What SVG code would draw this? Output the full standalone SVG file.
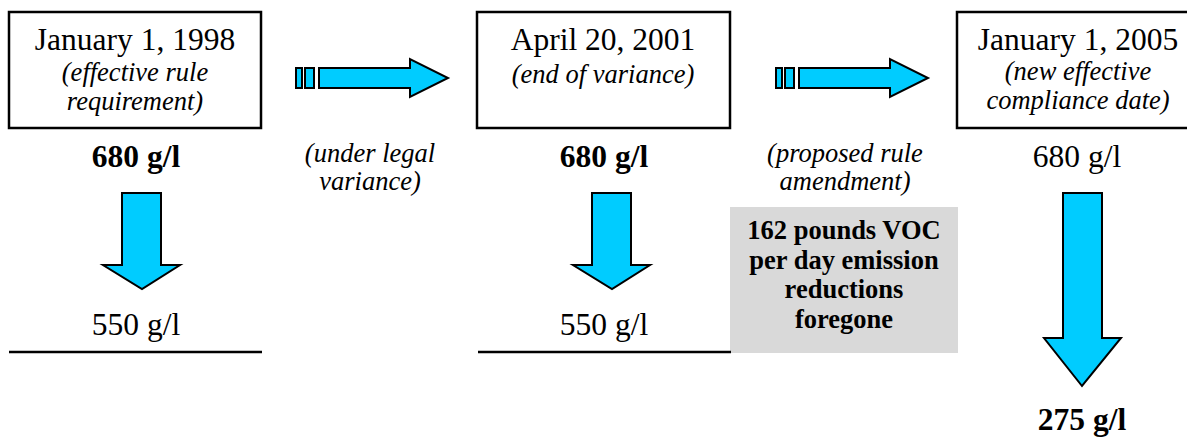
<svg xmlns="http://www.w3.org/2000/svg" width="1187" height="438" viewBox="0 0 1187 438">
<style>
.box{fill:#fff;stroke:#000;stroke-width:2.5}
.t{font-family:"Liberation Serif","Times New Roman",serif;fill:#000;text-anchor:middle}
.big{font-size:31.5px}
.it{font-size:26.5px;font-style:italic}
.b{font-weight:bold}
.gb{font-size:26.5px;font-weight:bold}
.arr{fill:#00ccff;stroke:#000;stroke-width:2;stroke-linejoin:miter}
.ln{stroke:#000;stroke-width:2.5}
</style>
<rect width="1187" height="438" fill="#fff"/>
<g id="node-1998">
<rect class="box" x="9" y="12" width="252" height="116"/>
<text class="t big" x="135" y="50">January 1, 1998</text>
<text class="t it" x="135" y="81">(effective rule</text>
<text class="t it" x="135" y="110">requirement)</text>
</g>
<g id="node-2001">
<rect class="box" x="477" y="12" width="253" height="116"/>
<text class="t big" x="603" y="50">April 20, 2001</text>
<text class="t it" x="603" y="83">(end of variance)</text>
</g>
<g id="node-2005">
<rect class="box" x="957" y="12" width="245" height="116"/>
<text class="t big" x="1078" y="50">January 1, 2005</text>
<text class="t it" x="1078" y="80">(new effective</text>
<text class="t it" x="1078" y="109">compliance date)</text>
</g>
<g id="labels">
<text class="t big b" x="136" y="167">680 g/l</text>
<text class="t big" x="136" y="335">550 g/l</text>
<text class="t big b" x="604" y="167">680 g/l</text>
<text class="t big" x="604" y="335">550 g/l</text>
<text class="t big" x="1077" y="167">680 g/l</text>
<text class="t big b" x="1082" y="430">275 g/l</text>
<text class="t it" x="370" y="162">(under legal</text>
<text class="t it" x="370" y="190">variance)</text>
<text class="t it" x="845" y="162">(proposed rule</text>
<text class="t it" x="845" y="190">amendment)</text>
</g>
<g id="node-foregone">
<rect x="730" y="207" width="228" height="146" fill="#d9d9d9"/>
<text class="t gb" x="844" y="239">162 pounds VOC</text>
<text class="t gb" x="844" y="269">per day emission</text>
<text class="t gb" x="844" y="298">reductions</text>
<text class="t gb" x="844" y="328">foregone</text>
</g>
<g id="connectors">
<line class="ln" x1="9" y1="352" x2="262" y2="352"/>
<line class="ln" x1="478" y1="352" x2="731" y2="352"/>
<rect class="arr" x="296" y="68" width="6" height="20"/>
<rect class="arr" x="305" y="68" width="9" height="20"/>
<polygon class="arr" points="319,68 410,68 410,59 448,78 410,97 410,88 319,88"/>
<rect class="arr" x="776" y="68" width="6" height="20"/>
<rect class="arr" x="785" y="68" width="9" height="20"/>
<polygon class="arr" points="799,68 890,68 890,59 928,78 890,97 890,88 799,88"/>
<polygon class="arr" points="122,193 161,193 161,265 180,265 142,289 103,265 122,265"/>
<polygon class="arr" points="592,193 631,193 631,265 650,265 612,289 573,265 592,265"/>
<polygon class="arr" points="1063,193 1102,193 1102,338 1121,338 1082,386 1044,338 1063,338"/>
</g>
</svg>
